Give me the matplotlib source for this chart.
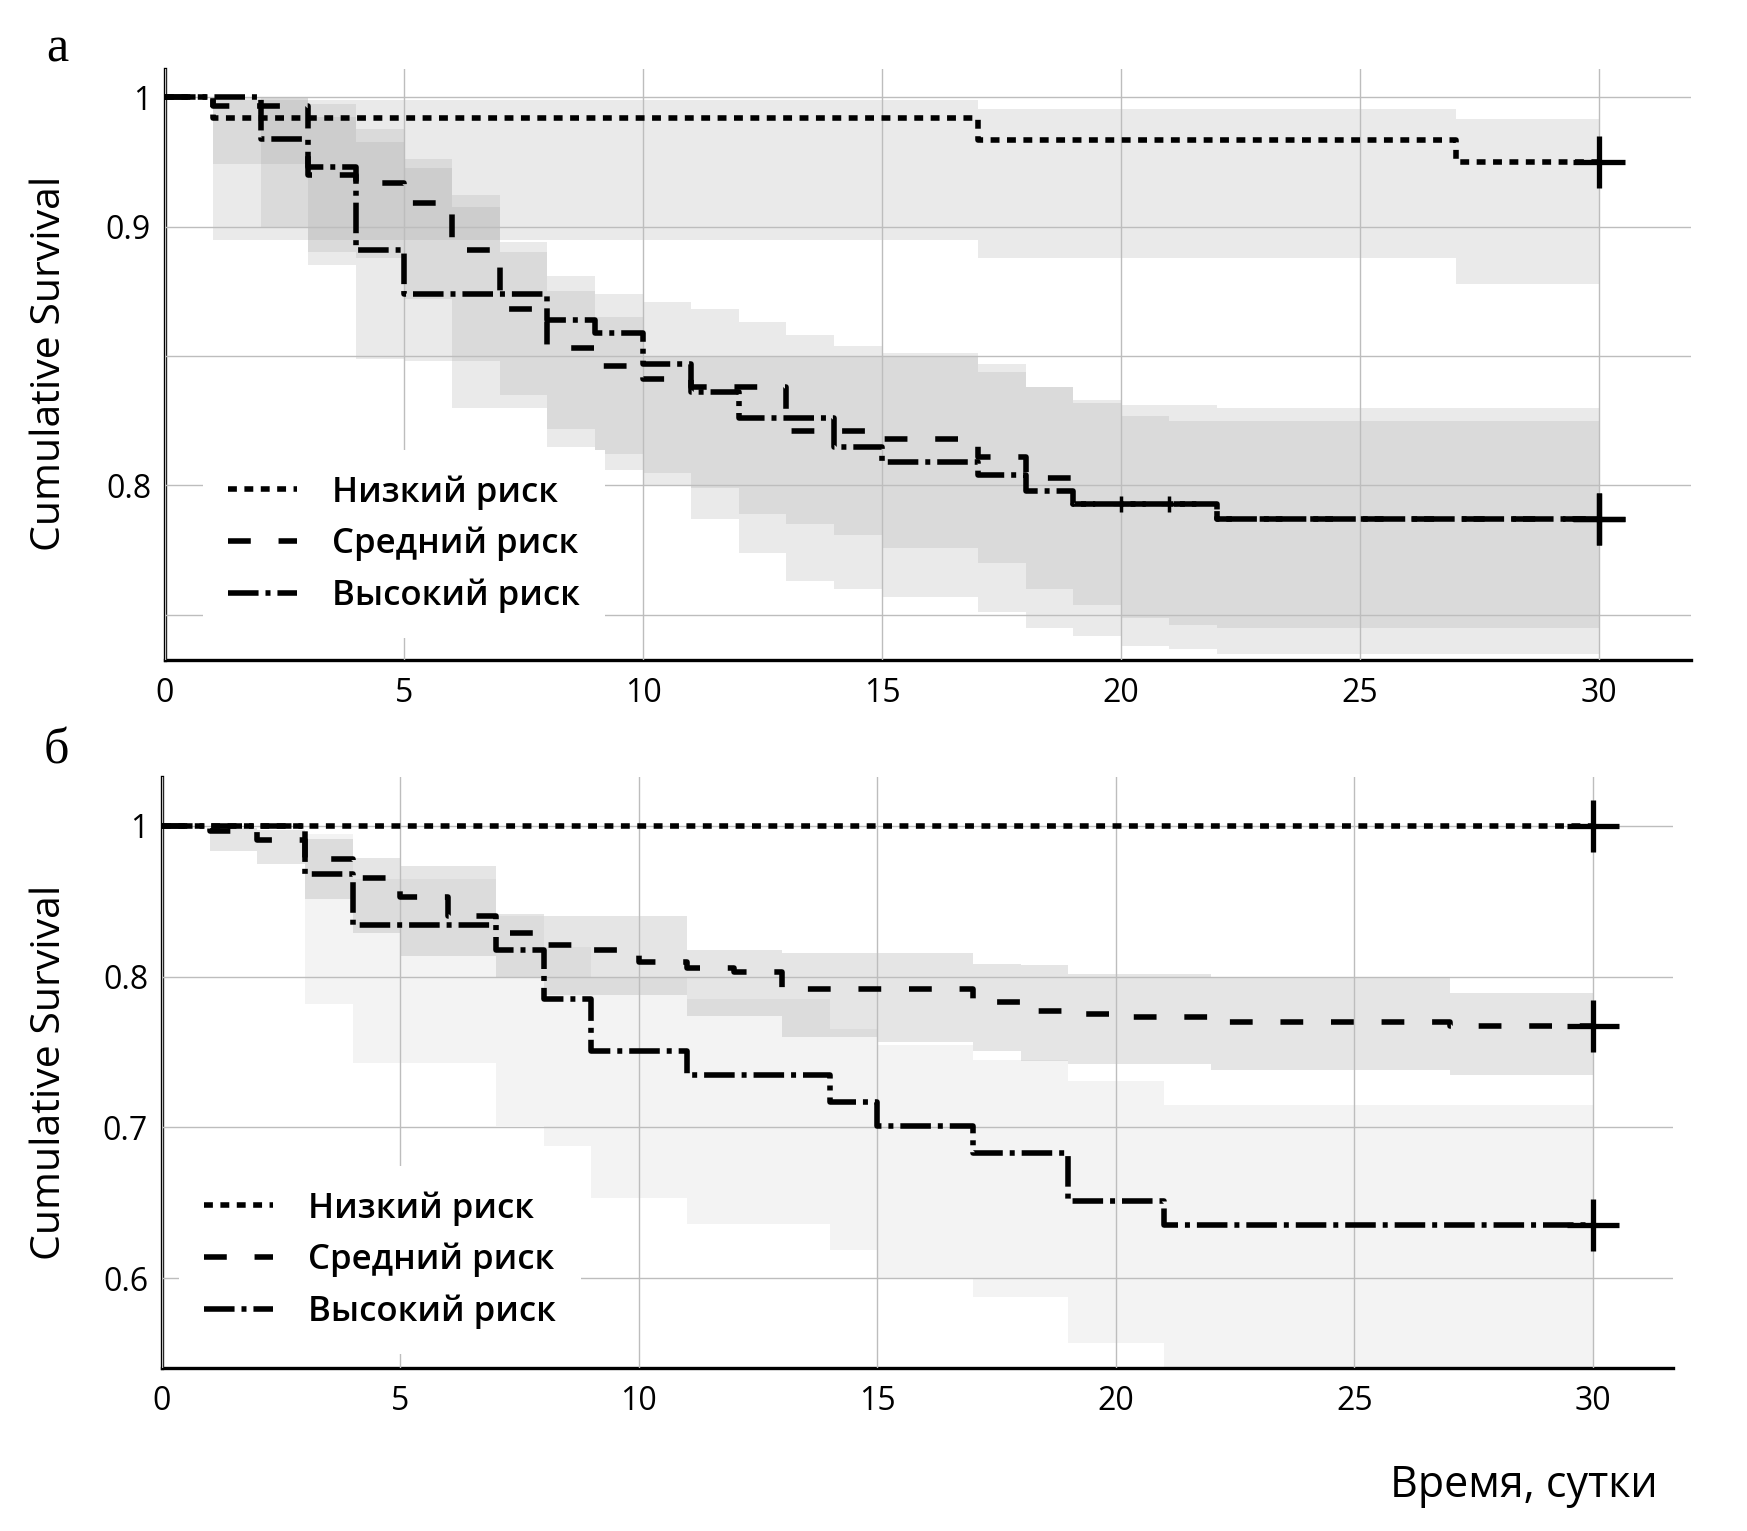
import numpy as np
import matplotlib.pyplot as plt

plt.rcParams['font.family'] = ['Open Sans', 'DejaVu Sans']

labels = ['Низкий риск', 'Средний риск', 'Высокий риск']

# ---- panel а: Kaplan-Meier steps (days, survival) ----
a_low_t = [0, 1, 17, 27]
a_low_s = [1.0, 0.984, 0.967, 0.950]
a_mid_t = [0, 1, 3, 4, 5, 6, 7, 8, 9, 10, 11, 13, 15, 17, 18, 19, 22]
a_mid_s = [1.0, 0.993, 0.940, 0.934, 0.918, 0.891, 0.868, 0.853, 0.846, 0.841, 0.838,
           0.821, 0.818, 0.811, 0.803, 0.793, 0.787]
a_high_t = [0, 2, 3, 4, 5, 8, 9, 10, 11, 12, 14, 15, 17, 18, 19, 22]
a_high_s = [1.0, 0.968, 0.946, 0.891, 0.874, 0.864, 0.859, 0.847, 0.836, 0.826, 0.815,
            0.809, 0.804, 0.798, 0.793, 0.787]

# confidence bands, panel а
a_low_bt = [1, 17, 27, 30]
a_low_up = [0.998, 0.991, 0.983, 0.983]
a_low_lo = [0.895, 0.888, 0.878, 0.878]
a_mid_bt = [1, 3, 4, 5, 6, 7, 8, 9, 10, 11, 12, 13, 14, 15, 17, 18, 19, 20, 21, 22, 30]
a_mid_up = [1.0, 0.985, 0.975, 0.952, 0.924, 0.894, 0.881, 0.874, 0.871, 0.868, 0.863,
            0.858, 0.854, 0.850, 0.847, 0.838, 0.833, 0.831, 0.831, 0.830, 0.830]
a_mid_lo = [0.948, 0.890, 0.888, 0.872, 0.848, 0.835, 0.822, 0.812, 0.805, 0.799, 0.789,
            0.785, 0.781, 0.776, 0.770, 0.760, 0.754, 0.749, 0.746, 0.745, 0.745]
a_high_bt = [2, 3, 4, 5, 6, 7, 8, 9, 10, 11, 12, 13, 14, 15, 17, 18, 19, 20, 21, 22, 30]
a_high_up = [1.0, 0.995, 0.965, 0.945, 0.915, 0.890, 0.875, 0.865, 0.850, 0.850, 0.850,
             0.850, 0.850, 0.851, 0.844, 0.838, 0.832, 0.827, 0.825, 0.825, 0.825]
a_high_lo = [0.900, 0.885, 0.849, 0.848, 0.830, 0.830, 0.815, 0.806, 0.800, 0.787, 0.774,
             0.763, 0.760, 0.757, 0.751, 0.745, 0.742, 0.738, 0.737, 0.735, 0.735]
a_censor_t = [20, 21]
a_censor_s = [0.793, 0.793]

# ---- panel б ----
b_low_t = [0]
b_low_s = [1.0]
b_mid_t = [0, 1, 2, 3, 4, 5, 6, 7, 8, 9, 10, 11, 12, 13, 17, 18, 19, 20, 22, 27]
b_mid_s = [1.0, 0.994, 0.981, 0.956, 0.931, 0.906, 0.881, 0.858, 0.842, 0.836, 0.819,
           0.811, 0.806, 0.792, 0.783, 0.777, 0.775, 0.773, 0.770, 0.7675]
b_high_t = [0, 3, 4, 7, 8, 9, 11, 14, 15, 17, 19, 21]
b_high_s = [1.0, 0.936, 0.869, 0.836, 0.785, 0.751, 0.735, 0.717, 0.701, 0.683, 0.651, 0.635]

b_mid_bt = [1, 2, 3, 4, 5, 7, 8, 11, 13, 15, 17, 18, 19, 22, 27, 30]
b_mid_up = [0.997, 0.995, 0.983, 0.958, 0.947, 0.883, 0.881, 0.836, 0.831, 0.831, 0.817,
            0.815, 0.803, 0.800, 0.789, 0.789]
b_mid_lo = [0.967, 0.950, 0.903, 0.858, 0.828, 0.800, 0.788, 0.774, 0.760, 0.757, 0.751,
            0.744, 0.742, 0.738, 0.735, 0.735]
b_high_bt = [3, 4, 7, 8, 9, 11, 14, 15, 17, 19, 21, 30]
b_high_up = [0.990, 0.930, 0.880, 0.840, 0.800, 0.785, 0.765, 0.755, 0.745, 0.731, 0.715, 0.715]
b_high_lo = [0.782, 0.743, 0.701, 0.6875, 0.653, 0.636, 0.619, 0.600, 0.5875, 0.557, 0.520, 0.520]

t_end = 30
lw = 4.0
styles = [(0, (1.6, 1.35)), (0, (4.1, 5.0)), (0, (5.5, 1.25, 0.9, 1.25))]


def knee_scale(knee):
    # the original chart squeezes the top step (knee .. 1) into one grid interval
    def fwd(v):
        v = np.asarray(v, dtype=float)
        return np.where(v > knee, knee + (v - knee) * 0.5, v)

    def inv(p):
        p = np.asarray(p, dtype=float)
        return np.where(p > knee, knee + (p - knee) * 2.0, p)
    return fwd, inv


def draw_panel(ax, curves, bands, knee, ylim, yticklabels, grid_y, xmax):
    ax.set_yscale('function', functions=knee_scale(knee))
    for bt, lo, up, color, alpha in bands:
        ax.fill_between(bt, lo, up, step='post', color=color, alpha=alpha,
                        lw=0, zorder=1)
    for (t, s), ls, lab in zip(curves, styles, labels):
        ax.plot(t + [t_end], s + [s[-1]], drawstyle='steps-post', color='k',
                lw=lw, ls=ls, label=lab, zorder=3)
        ax.plot([t_end], [s[-1]], marker='+', ms=37, mew=3.8, color='k',
                ls='none', zorder=4)
    ax.set_xlim(0, xmax)
    ax.set_ylim(*ylim)
    ax.set_xticks(range(0, 31, 5))
    ax.set_yticks(grid_y)
    ax.set_yticklabels([yticklabels.get(v, '') for v in grid_y])
    ax.grid(True, color='#bdbdbd', lw=1.0)
    ax.set_axisbelow(False)
    for side in ['top', 'right']:
        ax.spines[side].set_visible(False)
    for side in ['left', 'bottom']:
        ax.spines[side].set_linewidth(2.4)
    ax.tick_params(length=0, labelsize=23)
    ax.tick_params(axis='x', pad=12)
    ax.tick_params(axis='y', pad=10)


fig = plt.figure(figsize=(17.47, 15.31), dpi=100)
W, H = 1747, 1531

ax1 = fig.add_axes([165 / W, 1 - 660 / H, (1691 - 165) / W, (660 - 69) / H])
draw_panel(ax1,
           [(a_low_t, a_low_s), (a_mid_t, a_mid_s), (a_high_t, a_high_s)],
           [(a_low_bt, a_low_lo, a_low_up, '#a0a0a0', 0.21),
            (a_mid_bt, a_mid_lo, a_mid_up, '#a0a0a0', 0.21),
            (a_high_bt, a_high_lo, a_high_up, '#a0a0a0', 0.21)],
           0.9, (0.7326, 1.0217), {1.0: '1', 0.9: '0.9', 0.8: '0.8'},
           [0.75, 0.8, 0.85, 0.9, 1.0], 31.92)
ax1.plot(a_censor_t, a_censor_s, marker='+', ms=11, mew=2.5, color='k', ls='none', zorder=4)

ax2 = fig.add_axes([162 / W, 1 - 1368 / H, (1673 - 162) / W, (1368 - 777) / H])
draw_panel(ax2,
           [(b_low_t, b_low_s), (b_mid_t, b_mid_s), (b_high_t, b_high_s)],
           [(b_mid_bt, b_mid_lo, b_mid_up, '#a0a0a0', 0.27),
            (b_high_bt, b_high_lo, b_high_up, '#a0a0a0', 0.12)],
           0.8, (0.5404, 1.065), {1.0: '1', 0.8: '0.8', 0.7: '0.7', 0.6: '0.6'},
           [0.6, 0.7, 0.8, 1.0], 31.68)

legend_kw = dict(loc='upper left', bbox_transform=fig.transFigure, borderaxespad=0,
                 frameon=True, fancybox=False, edgecolor='none', facecolor='white',
                 framealpha=1, handlelength=2.0, handletextpad=1.0,
                 borderpad=0.72, labelspacing=0.5,
                 prop={'size': 25, 'weight': 'semibold'})
leg1 = ax1.legend(bbox_to_anchor=(203 / W, 1 - 450 / H), **legend_kw)
leg1.set_zorder(5)
leg2 = ax2.legend(bbox_to_anchor=(179 / W, 1 - 1166 / H), **legend_kw)
leg2.set_zorder(5)

fig.text(50 / W, 1 - 363 / H, 'Cumulative Survival', rotation=90, ha='center',
         va='center', fontsize=29.5)
fig.text(50 / W, 1 - 1072 / H, 'Cumulative Survival', rotation=90, ha='center',
         va='center', fontsize=29.5)
fig.text(1658 / W, 1 - 1497 / H, 'Время, сутки', ha='right', va='baseline', fontsize=31)
fig.text(46 / W, 1 - 61 / H, 'а', ha='left', va='baseline', fontsize=36,
         family='Liberation Serif')
fig.text(44 / W, 1 - 763 / H, 'б', ha='left', va='baseline', fontsize=36,
         family='Liberation Serif')

fig.savefig('out.png', dpi=100)
